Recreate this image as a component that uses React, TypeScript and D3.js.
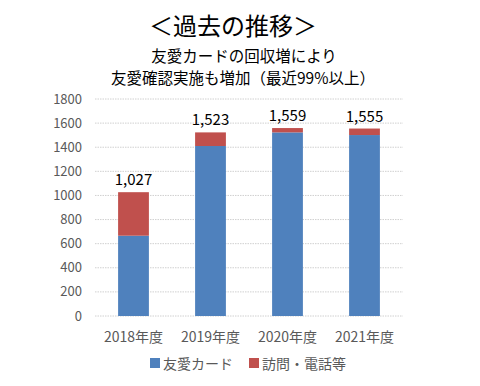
import React from "react";
import * as d3 from "d3";

const categories = ["2018年度", "2019年度", "2020年度", "2021年度"];
const cardValues = [666, 1410, 1523, 1501];
const visitValues = [361, 113, 36, 54];
const totals = [1027, 1523, 1559, 1555];
const yTicks = [0, 200, 400, 600, 800, 1000, 1200, 1400, 1600, 1800];
const seriesNames = ["友愛カード", "訪問・電話等"];
const colors = ["#4f81bd", "#c0504d"];

const W = 480, H = 386;
const font = "'Noto Sans CJK JP', 'Noto Sans', sans-serif";

export default function App() {
  const x = d3.scaleBand<string>().domain(categories).range([95, 403]).paddingInner(0.6).paddingOuter(0.3);
  const y = d3.scaleLinear().domain([0, 1800]).range([316, 99]);
  const stackData = categories.map((c, i) => ({ cat: c, card: cardValues[i], visit: visitValues[i] }));
  const stack = d3.stack<any>().keys(["card", "visit"])(stackData);

  return (
    <svg width={W} height={H} style={{ position: "absolute", left: 0, top: 0, background: "#fff" }}>
      <text x={233} y={35} textAnchor="middle" fontSize={24} fontFamily={font} fill="#000">＜過去の推移＞</text>
      <text x={244} y={62} textAnchor="middle" fontSize={15.5} fontFamily={font} fill="#000">友愛カードの回収増により</text>
      <text x={243} y={84} textAnchor="middle" fontSize={15.5} fontFamily={font} fill="#000">友愛確認実施も増加（最近99%以上）</text>
      {yTicks.map((t) => (
        <g key={t}>
          <line x1={95} x2={403} y1={y(t)} y2={y(t)} stroke="#d0d0d0" strokeWidth={1} strokeDasharray="1.5,1" />
          <text x={82} y={y(t) + 4.5} textAnchor="end" fontSize={13} fontFamily={font} fill="#595959">{t}</text>
        </g>
      ))}
      {stack.map((s, si) => (
        <g key={si} fill={colors[si]}>
          {s.map((d, i) => (
            <rect key={i} x={x(categories[i])} width={x.bandwidth()} y={y(d[1])} height={y(d[0]) - y(d[1])} />
          ))}
        </g>
      ))}
      {categories.map((c, i) => (
        <text key={c} x={(x(c) as number) + x.bandwidth() / 2} y={y(totals[i]) - 7} textAnchor="middle" fontSize={15} fontFamily={font} fill="#000">
          {d3.format(",")(totals[i])}
        </text>
      ))}
      {categories.map((c) => (
        <text key={c} x={(x(c) as number) + x.bandwidth() / 2} y={342} textAnchor="middle" fontSize={14} fontFamily={font} fill="#595959">{c}</text>
      ))}
      {seriesNames.map((n, i) => (
        <g key={n}>
          <rect x={[150, 249][i]} y={358} width={10} height={10} fill={colors[i]} />
          <text x={[163, 262][i]} y={368.5} fontSize={14} fontFamily={font} fill="#595959">{n}</text>
        </g>
      ))}
    </svg>
  );
}
